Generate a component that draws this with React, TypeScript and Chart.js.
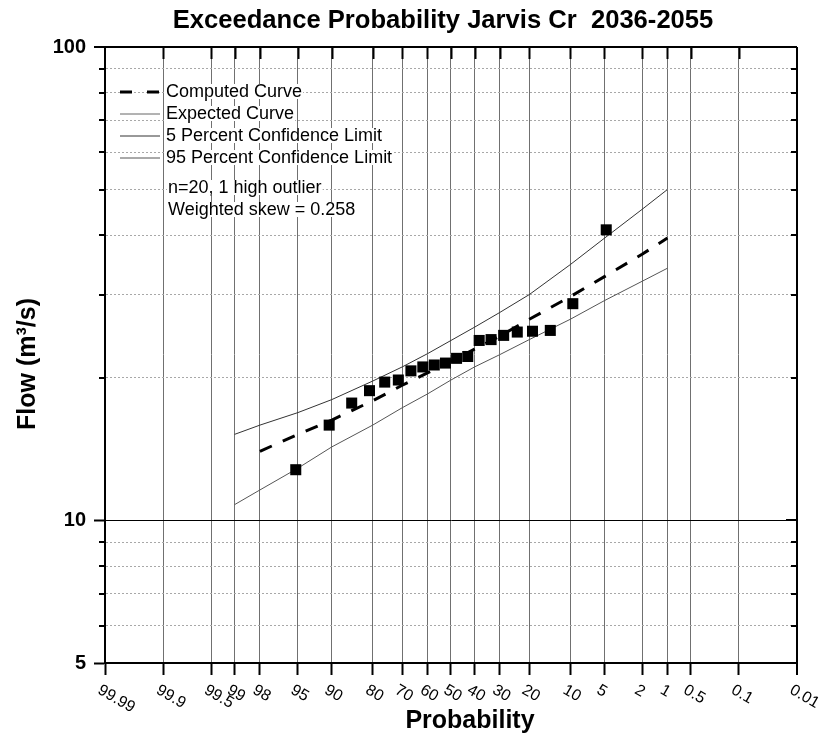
import React, { useEffect, useRef } from 'react';
import { Chart, Scale, registerables } from 'chart.js';

// ---- text ----
const TITLE = 'Exceedance Probability Jarvis Cr  2036-2055';
const X_TITLE = 'Probability';
const Y_TITLE = 'Flow (m³/s)';
const NOTES = ['n=20, 1 high outlier', 'Weighted skew = 0.258'];

// ---- axes ----
const PROB_TICKS = [99.99, 99.9, 99.5, 99, 98, 95, 90, 80, 70, 60, 50, 40, 30, 20, 10, 5, 2, 1, 0.5, 0.1, 0.01];
const FLOW_TICKS = [5, 6, 7, 8, 9, 10, 20, 30, 40, 50, 60, 70, 80, 90, 100];
const FLOW_LABELS = [5, 10, 100];

// ---- observed annual peaks (Weibull plotting positions, %) ----
const SAMPLE_PROB = [95.24, 90.48, 85.71, 80.95, 76.19, 71.43, 66.67, 61.9, 57.14, 52.38,
  47.62, 42.86, 38.1, 33.33, 28.57, 23.81, 19.05, 14.29, 9.52, 4.76];
const SAMPLE_FLOW = [12.8, 15.9, 17.7, 18.8, 19.6, 19.8, 20.7, 21.1, 21.3, 21.5,
  22.0, 22.2, 24.0, 24.1, 24.6, 25.0, 25.1, 25.2, 28.7, 41.1];

// ---- frequency curves ----
const CURVE_PROB = [99, 98, 95, 90, 80, 70, 60, 50, 40, 30, 20, 10, 5, 2, 1];
const COMPUTED = [null, 14.0, 15.2, 16.3, 17.9, 19.3, 20.5, 21.7, 23.0, 24.5, 26.6, 29.7, 32.7, 36.5, 39.5];
const EXPECTED: (number | null)[] = [];
const LIMIT_05 = [15.2, 15.9, 16.9, 18.0, 19.7, 21.1, 22.5, 24.0, 25.6, 27.5, 30.0, 34.7, 39.4, 45.4, 50.0];
const LIMIT_95 = [10.8, 11.6, 12.9, 14.3, 15.9, 17.3, 18.5, 19.8, 21.1, 22.4, 24.1, 26.6, 29.1, 32.0, 34.1];

const FONT = '"Liberation Sans", Arial, sans-serif';

// inverse standard normal CDF (Acklam)
function invNorm(p: number): number {
  const a = [-39.69683028665376, 220.9460984245205, -275.9285104469687, 138.357751867269, -30.66479806614716, 2.506628277459239];
  const b = [-54.47609879822406, 161.5858368580409, -155.6989798598866, 66.80131188771972, -13.28068155288572];
  const c = [-0.007784894002430293, -0.3223964580411365, -2.400758277161838, -2.549732539343734, 4.374664141464968, 2.938163982698783];
  const d = [0.007784695709041462, 0.3224671290700398, 2.445134137142996, 3.754408661907416];
  const lo = 0.02425;
  if (p < lo) {
    const q = Math.sqrt(-2 * Math.log(p));
    return (((((c[0] * q + c[1]) * q + c[2]) * q + c[3]) * q + c[4]) * q + c[5]) /
      ((((d[0] * q + d[1]) * q + d[2]) * q + d[3]) * q + 1);
  }
  if (p <= 1 - lo) {
    const q = p - 0.5;
    const r = q * q;
    return (((((a[0] * r + a[1]) * r + a[2]) * r + a[3]) * r + a[4]) * r + a[5]) * q /
      (((((b[0] * r + b[1]) * r + b[2]) * r + b[3]) * r + b[4]) * r + 1);
  }
  const q = Math.sqrt(-2 * Math.log(1 - p));
  return -(((((c[0] * q + c[1]) * q + c[2]) * q + c[3]) * q + c[4]) * q + c[5]) /
    ((((d[0] * q + d[1]) * q + d[2]) * q + d[3]) * q + 1);
}

function normCdf(z: number): number {
  const t = 1 / (1 + 0.3275911 * Math.abs(z) / Math.SQRT2);
  const y = 1 - (((((1.061405429 * t - 1.453152027) * t) + 1.421413741) * t - 0.284496736) * t + 0.254829592) * t *
    Math.exp(-(z * z) / 2);
  return z >= 0 ? 0.5 * (1 + y) : 0.5 * (1 - y);
}

// exceedance probability (%) -> standard normal variate
const probToZ = (p: number) => invNorm(1 - p / 100);

// Normal-probability axis: exceedance probability in percent, high values on the left
class ProbabilityScale extends Scale {
  static id = 'probability';
  static defaults = {};
  _zLo = 0;
  _zHi = 1;

  parse(raw: any) {
    return raw == null ? null : Number(raw);
  }
  determineDataLimits() {
    const o: any = this.options;
    this.min = o.min ?? 0.01;
    this.max = o.max ?? 99.99;
  }
  buildTicks() {
    return PROB_TICKS.filter((v) => v >= this.min && v <= this.max).map((value) => ({ value }));
  }
  configure() {
    super.configure();
    this._zLo = probToZ(this.max);
    this._zHi = probToZ(this.min);
  }
  getLabelForValue(value: number) {
    return String(value);
  }
  getPixelForValue(value: number) {
    return this.getPixelForDecimal((probToZ(value) - this._zLo) / (this._zHi - this._zLo));
  }
  getValueForPixel(pixel: number) {
    const z = this._zLo + this.getDecimalForPixel(pixel) * (this._zHi - this._zLo);
    return 100 * (1 - normCdf(z));
  }
}

Chart.register(...registerables, ProbabilityScale);

const pairs = (xs: number[], ys: (number | null)[]) =>
  ys.map((y, i) => ({ x: xs[i], y })).filter((p) => p.y != null);

// legend, slanted probability labels, mirrored ticks and titles
const decorPlugin = {
  id: 'probDecor',
  afterDraw(chart: any) {
    const { ctx, chartArea: ca, scales } = chart;
    const xs = scales.x;
    const ys = scales.y;
    ctx.save();

    // tick marks: top/right mirrors and short minor ticks on the flow axis
    ctx.strokeStyle = '#000';
    ctx.lineWidth = 2;
    ctx.beginPath();
    for (const t of xs.ticks) {
      if (t.value === PROB_TICKS[0] || t.value === PROB_TICKS[PROB_TICKS.length - 1]) continue;
      const px = Math.round(xs.getPixelForValue(t.value)) + 0.5;
      ctx.moveTo(px, ca.top);
      ctx.lineTo(px, ca.top + 12);
    }
    for (const v of FLOW_TICKS) {
      if (v === 5 || v === 100) continue;
      const major = FLOW_LABELS.includes(v);
      const py = Math.round(ys.getPixelForValue(v));
      if (!major) {
        ctx.moveTo(ca.left - 6, py);
        ctx.lineTo(ca.left, py);
      }
      ctx.moveTo(ca.right, py);
      ctx.lineTo(ca.right - (major ? 11 : 6), py);
    }
    ctx.stroke();

    // probability labels, slanted downwards, starting just left of each tick
    ctx.fillStyle = '#000';
    ctx.font = `16px ${FONT}`;
    ctx.textAlign = 'center';
    ctx.textBaseline = 'middle';
    const ang = Math.PI / 6;
    for (const t of xs.ticks) {
      const label = String(t.value);
      const w = ctx.measureText(label).width;
      const h = 11.5;
      const cx = xs.getPixelForValue(t.value) - 6 + (w / 2) * Math.cos(ang);
      const cy = ca.bottom + 21 + (w / 2) * Math.sin(ang) + (h / 2) * Math.cos(ang);
      ctx.save();
      ctx.translate(cx, cy);
      ctx.rotate(ang);
      ctx.fillText(label, 0, 0);
      ctx.restore();
    }

    // titles
    ctx.font = `bold 25.6px ${FONT}`;
    ctx.fillText(TITLE, 443, 21);
    ctx.font = `bold 25px ${FONT}`;
    ctx.fillText(X_TITLE, 470, 721);
    ctx.save();
    ctx.translate(28, 364);
    ctx.rotate(-Math.PI / 2);
    ctx.fillText(Y_TITLE, 0, 0);
    ctx.restore();

    // legend
    ctx.font = `18px ${FONT}`;
    ctx.textAlign = 'left';
    const entries = chart.data.datasets.filter((d: any) => d.inLegend);
    entries.forEach((d: any, i: number) => {
      const y = 92 + i * 22;
      ctx.save();
      ctx.strokeStyle = d.borderColor;
      ctx.lineWidth = d.borderWidth;
      ctx.setLineDash(d.legendDash || []);
      ctx.beginPath();
      ctx.moveTo(120, y);
      ctx.lineTo(160, y);
      ctx.stroke();
      ctx.restore();
      const w = ctx.measureText(d.label).width;
      ctx.fillStyle = '#fff';
      ctx.fillRect(165, y - 8, w + 2, 15);
      ctx.fillStyle = '#000';
      ctx.fillText(d.label, 166, y);
    });
    NOTES.forEach((s, i) => {
      const y = 188 + i * 22;
      const w = ctx.measureText(s).width;
      ctx.fillStyle = '#fff';
      ctx.fillRect(167, y - 8, w + 2, 15);
      ctx.fillStyle = '#000';
      ctx.fillText(s, 168, y);
    });
    ctx.restore();
  },
};

export default function App() {
  const ref = useRef<HTMLCanvasElement>(null);

  useEffect(() => {
    Chart.defaults.font.family = FONT;
    const chart = new Chart(ref.current as HTMLCanvasElement, {
      type: 'scatter',
      data: {
        datasets: [
          {
            label: 'Observed',
            data: pairs(SAMPLE_PROB, SAMPLE_FLOW),
            pointStyle: 'rect',
            pointRadius: 7.8,
            pointBorderWidth: 0,
            backgroundColor: '#000',
            borderColor: '#000',
            showLine: false,
          },
          {
            label: 'Computed Curve',
            data: pairs(CURVE_PROB, COMPUTED),
            showLine: true,
            borderColor: '#000',
            borderWidth: 3,
            borderDash: [13, 12],
            legendDash: [12, 15],
            pointRadius: 0,
            inLegend: true,
          },
          {
            label: 'Expected Curve',
            data: pairs(CURVE_PROB, EXPECTED),
            showLine: true,
            borderColor: '#666',
            borderWidth: 1,
            pointRadius: 0,
            inLegend: true,
          },
          {
            label: '5 Percent Confidence Limit',
            data: pairs(CURVE_PROB, LIMIT_05),
            showLine: true,
            borderColor: '#333',
            borderWidth: 1,
            pointRadius: 0,
            inLegend: true,
          },
          {
            label: '95 Percent Confidence Limit',
            data: pairs(CURVE_PROB, LIMIT_95),
            showLine: true,
            borderColor: '#555',
            borderWidth: 1,
            pointRadius: 0,
            inLegend: true,
          },
        ] as any,
      },
      options: {
        responsive: false,
        animation: false,
        events: [],
        layout: { padding: { top: 47, right: 25, bottom: 0, left: 0 } },
        plugins: {
          legend: { display: false },
          tooltip: { enabled: false },
          title: { display: false },
        },
        scales: {
          x: {
            type: 'probability' as any,
            min: 0.01,
            max: 99.99,
            afterFit: (s: any) => {
              s.height = 77;
            },
            ticks: { display: false, autoSkip: false },
            border: { display: true, color: '#000', width: 2 },
            grid: {
              color: (c: any) =>
                !c.tick ? '#707070' : c.tick.value === 99.99 ? 'rgba(0,0,0,0)' : c.tick.value === 0.01 ? '#000' : '#707070',
              lineWidth: (c: any) => (c.tick && c.tick.value === 0.01 ? 2 : 1),
              tickColor: '#000',
              tickWidth: 2,
              tickLength: 12,
            },
          } as any,
          y: {
            type: 'logarithmic',
            min: 5,
            max: 100,
            afterFit: (s: any) => {
              s.width = 105;
            },
            afterBuildTicks: (s: any) => {
              s.ticks = FLOW_TICKS.map((value) => ({ value }));
            },
            ticks: {
              autoSkip: false,
              padding: 8,
              color: '#000',
              font: { size: 20, weight: 'bold' },
              callback: (v: any) => (FLOW_LABELS.includes(Number(v)) ? String(v) : ''),
            },
            border: {
              display: true,
              color: '#000',
              width: 2,
              dash: (c: any) => (c.tick && !FLOW_LABELS.includes(c.tick.value) ? [2, 2] : []),
            },
            grid: {
              color: (c: any) => {
                if (!c.tick) return '#a0a0a0';
                const v = c.tick.value;
                if (v === 5) return 'rgba(0,0,0,0)';
                if (v === 10 || v === 100) return '#000';
                return '#a8a8a8';
              },
              lineWidth: (c: any) => (c.tick && c.tick.value === 100 ? 2 : 1),
              tickColor: (c: any) => (c.tick && FLOW_LABELS.includes(c.tick.value) ? '#000' : 'rgba(0,0,0,0)'),
              tickWidth: 2,
              tickLength: 11,
            },
          } as any,
        },
      },
      plugins: [decorPlugin],
    } as any);
    return () => chart.destroy();
  }, []);

  return (
    <div style={{ position: 'absolute', left: 0, top: 0, width: 822, height: 740, background: '#fff' }}>
      <canvas ref={ref} width={822} height={740} style={{ display: 'block' }} />
    </div>
  );
}
